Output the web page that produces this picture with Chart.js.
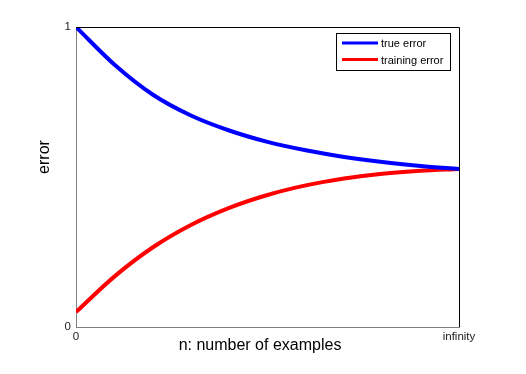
<!DOCTYPE html>
<html>
<head>
<meta charset="utf-8">
<script src="https://cdn.jsdelivr.net/npm/chart.js@4/dist/chart.umd.min.js"></script>
<style>
html,body{margin:0;padding:0;background:#fff;}
#wrap{width:526px;height:374px;}
</style>
</head>
<body>
<div id="wrap"><canvas id="errChart" width="526" height="374"></canvas></div>
<script>
// n as a fraction of the way to "infinity"
const nSteps=[0,0.1,0.2,0.3,0.4,0.5,0.6,0.7,0.8,0.9,1.0];
const trueError=[1.0,0.875,0.775,0.705,0.655,0.617,0.589,0.567,0.550,0.537,0.527];
const trainingError=[0.05,0.168,0.265,0.340,0.397,0.440,0.472,0.495,0.511,0.521,0.527];
const seriesNames=["true error","training error"];
const xTickLabels={0:"0",1:"infinity"};
const yTickLabels={0:"0",1:"1"};
const xTitle="n: number of examples";
const yTitle="error";

function toPoints(ys){
  return nSteps.map((x,i)=>({x:x,y:ys[i]}));
}

const frame={
  id:'frame',
  afterDraw(chart){
    const c=chart.ctx, a=chart.chartArea;
    c.save();
    // top and right edges of the box
    c.strokeStyle='#000';
    c.lineWidth=1;
    c.beginPath();
    c.moveTo(a.left,a.top+0.5);
    c.lineTo(a.right+0.5,a.top+0.5);
    c.lineTo(a.right+0.5,a.bottom);
    c.stroke();

    // axis titles
    c.fillStyle='#000';
    c.font='16px "Liberation Sans", Arial, sans-serif';
    c.textAlign='center';
    c.textBaseline='middle';
    c.fillText(xTitle,260,346);
    c.translate(45,157);
    c.rotate(-Math.PI/2);
    c.fillText(yTitle,0,0);
    c.restore();

    // legend box
    c.save();
    const lx=336, ly=33, lw=114, lh=37;
    c.fillStyle='#fff';
    c.fillRect(lx,ly,lw,lh);
    c.strokeStyle='#000';
    c.lineWidth=1;
    c.strokeRect(lx+0.5,ly+0.5,lw,lh);
    c.font='11px "Liberation Sans", Arial, sans-serif';
    c.textBaseline='middle';
    c.textAlign='left';
    chart.data.datasets.forEach((ds,i)=>{
      const y=43+i*16.5;
      c.strokeStyle=ds.borderColor;
      c.lineWidth=3;
      c.beginPath();
      c.moveTo(342,y);
      c.lineTo(378,y);
      c.stroke();
      c.fillStyle='#000';
      c.fillText(ds.label,381,y+1);
    });
    c.restore();
  }
};

const ctx=document.getElementById('errChart').getContext('2d');

new Chart(ctx,{
  type:'line',
  data:{
    datasets:[{
      label:seriesNames[0],
      data:toPoints(trueError),
      borderColor:'#0000ff',
      borderWidth:4,
      pointRadius:0,
      cubicInterpolationMode:'monotone',
      fill:false
    },{
      label:seriesNames[1],
      data:toPoints(trainingError),
      borderColor:'#ff0000',
      borderWidth:4,
      pointRadius:0,
      cubicInterpolationMode:'monotone',
      fill:false
    }]
  },
  options:{
    responsive:false,
    animation:false,
    layout:{padding:{left:0,right:67,top:27,bottom:0}},
    plugins:{legend:{display:false},tooltip:{enabled:false}},
    scales:{
      x:{
        type:'linear',
        min:0,max:1,
        afterFit(s){ s.height=47; },
        afterBuildTicks(s){ s.ticks=[{value:0},{value:1}]; },
        ticks:{
          padding:3,
          color:'#222',
          font:{family:'"Liberation Sans", Arial, sans-serif',size:11.5},
          maxRotation:0,
          callback:v=>xTickLabels[v]
        },
        grid:{display:false,drawTicks:false},
        border:{display:true,color:'#808080',width:1}
      },
      y:{
        type:'linear',
        min:0,max:1,
        afterFit(s){ s.width=76; },
        afterBuildTicks(s){ s.ticks=[{value:0},{value:1}]; },
        ticks:{
          padding:5,
          color:'#222',
          font:{family:'"Liberation Sans", Arial, sans-serif',size:11.5},
          callback:v=>yTickLabels[v]
        },
        grid:{display:false,drawTicks:false},
        border:{display:true,color:'#808080',width:1}
      }
    }
  },
  plugins:[frame]
});
</script>
</body>
</html>
